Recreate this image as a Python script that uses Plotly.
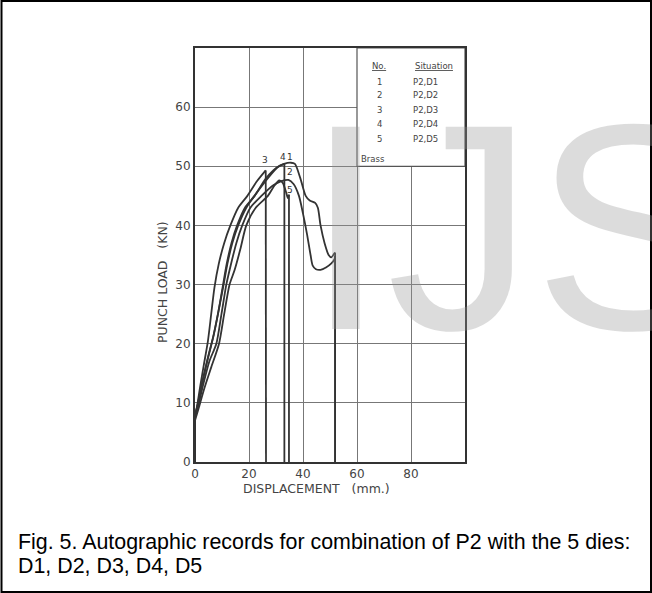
import plotly.graph_objects as go

# ---------------- data ----------------
c1_x = [0, 0, 1, 2.7, 4.7, 6.9, 8.7, 10.6, 12, 13.8, 16, 19, 22.8, 27, 30.5, 33, 35.5, 37, 39, 41, 42.5, 44.5, 45.5, 46.5, 48, 49.5, 50.5, 51.5, 51.9, 51.9]
c1_y = [0, 8, 9.8, 13.5, 17.5, 21.5, 25.5, 30, 33.5, 37, 40, 43, 45.5, 48, 49.8, 50.4, 50.6, 50.4, 48, 45, 44.2, 43.8, 43, 40, 37, 35, 34.6, 35.2, 35.4, 0]

c2_x = [0, 0, 1.2, 3, 5.3, 7.9, 9.8, 11.6, 13.3, 15.3, 17.5, 20.5, 24.6, 29, 32, 34.6, 36.5, 38.5, 40, 41.5, 42.8, 43.6, 44.8, 46.5, 48.5, 50.5, 51.7, 51.9, 51.9]
c2_y = [0, 7.5, 9.5, 13, 17, 20, 25, 30, 33.4, 37, 40, 43, 45, 46.8, 47.5, 47.7, 47, 45, 42, 38.5, 35, 33.2, 32.6, 32.5, 32.9, 33.6, 34.3, 34.8, 0]

c3_x = [0, 0, 0.8, 2, 3.3, 4.8, 6, 7.2, 8.8, 10.8, 13.1, 16, 19.4, 23, 26.2, 26.3]
c3_y = [0, 7.5, 9.5, 13, 16.5, 20.5, 25, 29.5, 33.5, 37, 40, 43, 45, 47.5, 49.3, 0]

c4_x = [0, 0, 1, 2.5, 4.5, 6.7, 8.5, 10.4, 11.7, 13.5, 15.6, 18.5, 22.1, 26, 29, 31, 33.1, 33.1]
c4_y = [0, 7.8, 9.5, 13, 17, 21, 25, 30, 33.4, 37, 40, 43, 45, 47.8, 49.3, 50, 50.4, 0]

c5_x = [0, 0, 1.3, 3.5, 6, 8.9, 10.8, 12.8, 14.7, 16.8, 19, 22.5, 27, 29.5, 31.2, 32.5, 33.8, 34.4, 34.8, 34.8]
c5_y = [0, 7, 9, 12.5, 16, 20, 25, 30, 32.5, 36, 40, 43, 45, 46.8, 47.6, 47.2, 45.5, 44.6, 45.2, 0]

curve_labels = ["1", "2", "3", "4", "5"]
label_x = [35.3, 35.3, 26.0, 32.6, 35.0]
label_y = [51.6, 49.1, 51.0, 51.6, 46.0]

legend_no = ["1", "2", "3", "4", "5"]
legend_sit = ["P2,D1", "P2,D2", "P2,D3", "P2,D4", "P2,D5"]
legend_row_y = [64.3, 62.1, 59.6, 57.1, 54.6]

x_ticks = [0, 20, 40, 60, 80]
y_ticks = [0, 10, 20, 30, 40, 50, 60]

# ---------------- figure ----------------
W, H = 652, 593
L, R, T, B = 195, 187, 48, 131
PW, PH = W - L - R, H - T - B


def px(xp):
    return (xp - L) / PW


def py(yp):
    return (H - B - yp) / PH


ink = "#333333"
fig = go.Figure()
for xs, ys in [(c1_x, c1_y), (c2_x, c2_y), (c3_x, c3_y), (c4_x, c4_y), (c5_x, c5_y)]:
    line = dict(color=ink, width=1.8)
    # initial vertical rise along the load axis
    fig.add_trace(go.Scatter(x=xs[:2], y=ys[:2], mode="lines", line=line,
                             showlegend=False, hoverinfo="skip"))
    # smooth body of the record
    fig.add_trace(go.Scatter(x=xs[1:-1], y=ys[1:-1], mode="lines",
                             line=dict(color=ink, width=1.8, shape="spline", smoothing=0.7),
                             showlegend=False, hoverinfo="skip"))
    # final vertical drop (fracture)
    fig.add_trace(go.Scatter(x=xs[-2:], y=ys[-2:], mode="lines", line=line,
                             showlegend=False, hoverinfo="skip"))

# curve number labels
for t, lx, ly in zip(curve_labels, label_x, label_y):
    fig.add_annotation(x=lx, y=ly, text=t, showarrow=False,
                       font=dict(family="DejaVu Sans", size=9, color=ink))

# legend box (white panel over grid)
fig.add_shape(type="rect", x0=60, x1=100, y0=50, y1=70, xref="x", yref="y",
              fillcolor="white", line=dict(color="#555555", width=1.2), layer="between")

lf = dict(family="DejaVu Sans", size=8.5, color="#444444")
fig.add_annotation(x=68.3, y=66.9, text="<u>No.</u>", showarrow=False, font=lf, borderpad=0)
fig.add_annotation(x=88.6, y=66.9, text="<u>Situation</u>", showarrow=False, font=lf, borderpad=0)
for n, s, ry in zip(legend_no, legend_sit, legend_row_y):
    fig.add_annotation(x=68.5, y=ry, text=n, showarrow=False, font=lf, borderpad=0)
    fig.add_annotation(x=80.2, y=ry, text=s, showarrow=False, font=lf, xanchor="left", borderpad=0)
fig.add_annotation(x=61.0, y=51.2, text="Brass", showarrow=False, font=lf, xanchor="left", borderpad=0)

# axis titles
tf = dict(family="DejaVu Sans", size=12.5, color="#444444")
fig.add_annotation(xref="paper", yref="paper", x=px(162), y=py(282), xanchor="center", yanchor="middle",
                   text="PUNCH LOAD   (KN)", textangle=-90, showarrow=False, font=tf)
fig.add_annotation(xref="paper", yref="paper", x=px(316), y=py(488), xanchor="center", yanchor="middle",
                   text="DISPLACEMENT   (mm.)", showarrow=False, font=tf)

# caption
cf = dict(family="Liberation Sans", size=21.4, color="black")
fig.add_annotation(xref="paper", yref="paper", x=px(16), y=py(542), xanchor="left", yanchor="middle",
                   showarrow=False, text="Fig. 5. Autographic records for combination of P2 with the 5 dies:",
                   font=cf)
fig.add_annotation(xref="paper", yref="paper", x=px(16), y=py(566), xanchor="left", yanchor="middle",
                   showarrow=False, text="D1, D2, D3, D4, D5", font=cf)

# watermark
fig.add_annotation(xref="paper", yref="paper", x=px(303), y=py(61), xanchor="left", yanchor="top",
                   showarrow=False, text="IJSER",
                   font=dict(family="Liberation Sans", size=294, color="rgba(150,150,150,0.33)"))

# page border
fig.add_shape(type="rect", xref="paper", yref="paper", x0=px(1.5), x1=px(W - 1), y0=py(H - 1), y1=py(1),
              line=dict(color="black", width=2), fillcolor="rgba(0,0,0,0)", layer="above")

fig.update_xaxes(range=[0, 100], tickvals=x_ticks, ticktext=[str(v) for v in x_ticks],
                 showgrid=True, gridcolor="#777777", gridwidth=1.2,
                 showline=True, linecolor=ink, linewidth=2, mirror=True,
                 zeroline=False, ticks="", tickfont=dict(family="DejaVu Sans", size=12, color="#444444"))
fig.update_yaxes(range=[0, 70], tickvals=y_ticks, ticktext=[str(v) for v in y_ticks],
                 showgrid=True, gridcolor="#777777", gridwidth=1.2,
                 showline=True, linecolor=ink, linewidth=2, mirror=True,
                 zeroline=False, ticks="", tickfont=dict(family="DejaVu Sans", size=12, color="#444444"))

fig.update_layout(width=W, height=H, margin=dict(l=L, r=R, t=T, b=B),
                  paper_bgcolor="white", plot_bgcolor="white", showlegend=False)

fig.write_html("out.html")
